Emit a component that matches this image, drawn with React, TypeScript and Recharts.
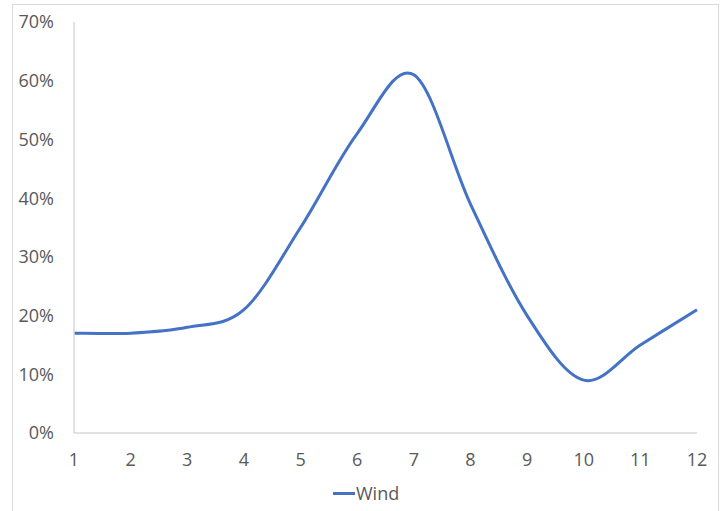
import React from 'react';
import { LineChart, Line, XAxis, YAxis } from 'recharts';

const months = [1, 2, 3, 4, 5, 6, 7, 8, 9, 10, 11, 12];
const wind = [0.17, 0.17, 0.18, 0.21, 0.35, 0.51, 0.61, 0.39, 0.2, 0.09, 0.15, 0.21];
const yTicks = [0, 0.1, 0.2, 0.3, 0.4, 0.5, 0.6, 0.7];
const seriesName = 'Wind';
const lineColor = '#4472c4';

const data = months.map((m, i) => ({ month: m, [seriesName]: wind[i] }));

// Excel-like smoothed line (Catmull-Rom through the points)
class SmoothCurve {
  ctx: any;
  pts: number[][] = [];
  constructor(ctx: any) {
    this.ctx = ctx;
  }
  areaStart() {}
  areaEnd() {}
  lineStart() {
    this.pts = [];
  }
  point(x: number, y: number) {
    this.pts.push([+x, +y]);
  }
  lineEnd() {
    const p = this.pts;
    if (!p.length) return;
    this.ctx.moveTo(p[0][0], p[0][1]);
    for (let i = 0; i < p.length - 1; i++) {
      const p0 = p[i - 1] || p[i];
      const p1 = p[i];
      const p2 = p[i + 1];
      const p3 = p[i + 2] || p[i + 1];
      this.ctx.bezierCurveTo(
        p1[0] + (p2[0] - p0[0]) / 6,
        p1[1] + (p2[1] - p0[1]) / 6,
        p2[0] - (p3[0] - p1[0]) / 6,
        p2[1] - (p3[1] - p1[1]) / 6,
        p2[0],
        p2[1]
      );
    }
  }
}

const smooth: any = (ctx: any) => new SmoothCurve(ctx);

const font = '"Open Sans", sans-serif';

export default function App() {
  return (
    <div style={{ position: 'absolute', left: 0, top: 0, width: 724, height: 511, overflow: 'hidden', background: '#fff' }}>
      <div
        style={{
          position: 'absolute',
          left: 12,
          top: 4,
          width: 705,
          height: 507,
          border: '1px solid #d9d9d9',
          borderBottom: 'none',
        }}
      />
      <div style={{ position: 'absolute', left: 0, top: 0 }}>
        <LineChart width={724} height={511} data={data} margin={{ top: 22, right: 27, bottom: 38, left: 14 }}>
          <XAxis
            dataKey="month"
            type="number"
            domain={[1, 12]}
            ticks={months}
            axisLine={{ stroke: '#d9d9d9', strokeWidth: 1.5 }}
            tickLine={false}
            tickSize={0}
            tickMargin={20}
            tick={{ fill: '#595959', fontSize: 18, fontFamily: font }}
            height={40}
          />
          <YAxis
            domain={[0, 0.7]}
            ticks={yTicks}
            tickFormatter={(v: number) => `${Math.round(v * 100)}%`}
            axisLine={{ stroke: '#d9d9d9', strokeWidth: 1.5 }}
            tickLine={false}
            tickSize={0}
            tickMargin={20}
            tick={{ fill: '#595959', fontSize: 18, fontFamily: font }}
            width={60}
          />
          <Line
            dataKey={seriesName}
            type={smooth}
            stroke={lineColor}
            strokeWidth={3}
            dot={false}
            activeDot={false}
            isAnimationActive={false}
          />
        </LineChart>
      </div>
      <div
        style={{
          position: 'absolute',
          left: 333,
          top: 480,
          display: 'flex',
          alignItems: 'center',
          fontFamily: font,
          fontSize: 18,
          color: '#595959',
          lineHeight: '26px',
        }}
      >
        <span style={{ display: 'inline-block', width: 22, height: 3, background: lineColor, marginRight: 1 }} />
        <span>{seriesName}</span>
      </div>
    </div>
  );
}
